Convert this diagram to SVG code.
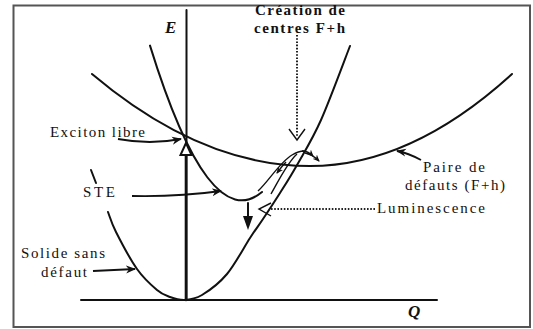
<svg xmlns="http://www.w3.org/2000/svg" width="533" height="329" viewBox="0 0 533 329">
<style>
.c{fill:none;stroke:#111;stroke-width:2;stroke-linecap:round}
.t{font-family:"Liberation Serif","Times New Roman",serif;font-size:15px;fill:#111}
.b{font-family:"Liberation Serif","Times New Roman",serif;font-size:15px;font-weight:bold;fill:#111}
.ax{font-family:"Liberation Serif","Times New Roman",serif;font-size:17px;font-weight:bold;font-style:italic;fill:#111}
.a{fill:none;stroke:#111;stroke-width:1.8;marker-end:url(#ah)}
.d{fill:none;stroke:#222;stroke-width:2;stroke-dasharray:1.6 1.6}
.th{fill:none;stroke:#111;stroke-width:1.4}
</style>
<defs>
<marker id="ah" markerUnits="userSpaceOnUse" markerWidth="11" markerHeight="9" refX="9" refY="4.5" orient="auto"><path d="M0,0.5 L10,4.5 L0,8.5 L3,4.5 Z" fill="#111"/></marker>
<marker id="sh" markerUnits="userSpaceOnUse" markerWidth="8" markerHeight="7" refX="6" refY="3.5" orient="auto"><path d="M0,0.5 L7,3.5 L0,6.5 L2,3.5 Z" fill="#111"/></marker>
</defs>
<rect x="0" y="0" width="533" height="329" fill="#fff"/>
<rect x="13.5" y="5.5" width="516.5" height="321.5" fill="none" stroke="#555" stroke-width="2"/>
<g id="axes">
<path class="c" d="M186.5,10 L186.5,300"/>
<path class="c" d="M81,300 L437,300"/>
<text class="ax" x="165" y="33">E</text>
<text class="ax" x="408" y="317">Q</text>
</g>
<g id="curves">
<path id="ground" class="c" d="M108,212 C109.3,215.3 111.2,222.5 116,232 C120.8,241.5 130.2,259.3 137,269 C143.8,278.7 151.5,285.3 157,290 C162.5,294.7 165.5,295.3 170,297 C174.5,298.7 178.7,300 184,300 C189.3,299.7 194.8,299.3 202,295 C209.2,290.7 219,283.5 227,274 C235,264.5 244,247.2 250,238 C256,228.8 258,226.5 263,219 C268,211.5 274.3,202 280,193 C285.7,184 290.2,177.2 297,165 C303.8,152.8 312.2,139.8 321,120 C329.8,100.2 345.2,58.3 350,46"/>
<path class="c" d="M91,170 L96,183"/>
<path id="ste" class="c" d="M150,45.6 Q209,236.2 262,192"/>
<path id="fh" class="c" d="M92,74 Q201,166 310,166 Q411,166 512,74"/>
</g>
<g id="connectors">
<path class="c" d="M186,300 L186,155" style="stroke-width:2.6"/>
<polygon points="186,143 180.5,155 191.5,155" fill="#fff" stroke="#111" stroke-width="2"/>
<path class="a" d="M118,139 Q150,145 181,139"/>
<path class="a" d="M132,196 Q178,197 221,191"/>
<path class="a" d="M93,271 L135,269"/>
<path class="a" d="M421,160 Q408,153 397,151"/>
<path class="d" d="M375,209 L270,209"/>
<polyline class="th" points="271,203 259,209 271,216"/>
<path class="c" d="M248,203 L248,219"/>
<polygon points="243,216 253,216 248,230" fill="#111"/>
<path class="d" d="M297,35 L297,136"/>
<polyline class="th" points="289,129 297,140 305,129"/>
<path class="th" d="M258,191 C268,182 280,162 292,155 C297,152 301,151 304,151"/>
<path class="th" d="M271,194 C278,182 287,163 297,154"/>
<path class="th" d="M302,151 C307,151 310,153 313,156" marker-end="url(#sh)"/>
<path class="th" d="M305,153 C311,154 315,157 319,161" marker-end="url(#sh)"/>
<path class="th" d="M286,162 C282,166 280,169 277,173" marker-end="url(#sh)"/>
</g>
<g id="label-exciton"><text class="t" x="50" y="136.5" textLength="95" lengthAdjust="spacing">Exciton libre</text></g>
<g id="label-ste"><text class="t" x="83" y="197" textLength="32" lengthAdjust="spacing">STE</text></g>
<g id="label-paire"><text class="t" x="423" y="172" textLength="62" lengthAdjust="spacing">Paire de</text><text class="t" x="405" y="190" textLength="100" lengthAdjust="spacing">défauts (F+h)</text></g>
<g id="label-lum"><text class="t" x="377" y="213" textLength="108" lengthAdjust="spacing">Luminescence</text></g>
<g id="label-solide"><text class="t" x="21" y="258" textLength="84" lengthAdjust="spacing">Solide sans</text><text class="t" x="41" y="277" textLength="46" lengthAdjust="spacing">défaut</text></g>
<g id="label-creation"><text class="b" x="255" y="15" textLength="90" lengthAdjust="spacing">Création de</text><text class="b" x="254" y="33" textLength="91" lengthAdjust="spacing">centres F+h</text></g>
</svg>
